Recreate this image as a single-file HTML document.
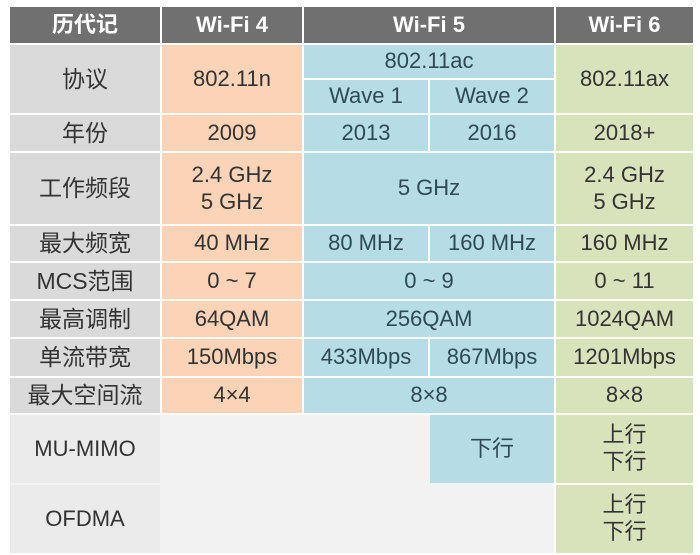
<!DOCTYPE html><html><head><meta charset="utf-8"><style>
body{margin:0;width:700px;height:555px;background:#fff;position:relative;overflow:hidden;font-family:"Liberation Sans","Noto Sans CJK SC",sans-serif}
.c{position:absolute;display:flex;flex-direction:column;align-items:center;justify-content:center;font-size:22px;color:#333;line-height:1.22;box-sizing:border-box}
.h{background:#707070;color:#fff;font-weight:bold;font-size:22px}
.l{background:#dadada;color:#333;font-size:23px}
.o{background:#fbd3b6}
.b{background:#b6dce6;color:#2e4a55}
.g{background:#d8e3bc}
.e{background:#f2f2f2}
</style></head><body>
<div class="c h" style="left:10px;top:7px;width:150px;height:36px">历代记</div>
<div class="c h" style="left:162px;top:7px;width:140px;height:36px">Wi-Fi 4</div>
<div class="c h" style="left:304px;top:7px;width:250px;height:36px">Wi-Fi 5</div>
<div class="c h" style="left:556px;top:7px;width:137px;height:36px">Wi-Fi 6</div>

<div class="c l" style="left:10px;top:45px;width:150px;height:68px">协议</div>
<div class="c o" style="left:162px;top:45px;width:140px;height:68px">802.11n</div>
<div class="c b" style="left:304px;top:45px;width:250px;height:33px">802.11ac</div>
<div class="c b" style="left:304px;top:80px;width:124px;height:33px">Wave 1</div>
<div class="c b" style="left:430px;top:80px;width:124px;height:33px">Wave 2</div>
<div class="c g" style="left:556px;top:45px;width:137px;height:68px">802.11ax</div>

<div class="c l" style="left:10px;top:115px;width:150px;height:36px">年份</div>
<div class="c o" style="left:162px;top:115px;width:140px;height:36px">2009</div>
<div class="c b" style="left:304px;top:115px;width:124px;height:36px">2013</div>
<div class="c b" style="left:430px;top:115px;width:124px;height:36px">2016</div>
<div class="c g" style="left:556px;top:115px;width:137px;height:36px">2018+</div>

<div class="c l" style="left:10px;top:153px;width:150px;height:71px">工作频段</div>
<div class="c o" style="left:162px;top:153px;width:140px;height:71px"><div>2.4 GHz</div><div>5 GHz</div></div>
<div class="c b" style="left:304px;top:153px;width:250px;height:71px">5 GHz</div>
<div class="c g" style="left:556px;top:153px;width:137px;height:71px"><div>2.4 GHz</div><div>5 GHz</div></div>

<div class="c l" style="left:10px;top:226px;width:150px;height:35px">最大频宽</div>
<div class="c o" style="left:162px;top:226px;width:140px;height:35px">40 MHz</div>
<div class="c b" style="left:304px;top:226px;width:124px;height:35px">80 MHz</div>
<div class="c b" style="left:430px;top:226px;width:124px;height:35px">160 MHz</div>
<div class="c g" style="left:556px;top:226px;width:137px;height:35px">160 MHz</div>

<div class="c l" style="left:10px;top:263px;width:150px;height:36px">MCS范围</div>
<div class="c o" style="left:162px;top:263px;width:140px;height:36px">0 ~ 7</div>
<div class="c b" style="left:304px;top:263px;width:250px;height:36px">0 ~ 9</div>
<div class="c g" style="left:556px;top:263px;width:137px;height:36px">0 ~ 11</div>

<div class="c l" style="left:10px;top:301px;width:150px;height:36px">最高调制</div>
<div class="c o" style="left:162px;top:301px;width:140px;height:36px">64QAM</div>
<div class="c b" style="left:304px;top:301px;width:250px;height:36px">256QAM</div>
<div class="c g" style="left:556px;top:301px;width:137px;height:36px">1024QAM</div>

<div class="c l" style="left:10px;top:339px;width:150px;height:37px">单流带宽</div>
<div class="c o" style="left:162px;top:339px;width:140px;height:37px">150Mbps</div>
<div class="c b" style="left:304px;top:339px;width:124px;height:37px">433Mbps</div>
<div class="c b" style="left:430px;top:339px;width:124px;height:37px">867Mbps</div>
<div class="c g" style="left:556px;top:339px;width:137px;height:37px">1201Mbps</div>

<div class="c l" style="left:10px;top:378px;width:150px;height:35px">最大空间流</div>
<div class="c o" style="left:162px;top:378px;width:140px;height:35px">4×4</div>
<div class="c b" style="left:304px;top:378px;width:250px;height:35px">8×8</div>
<div class="c g" style="left:556px;top:378px;width:137px;height:35px">8×8</div>

<div class="c e" style="left:10px;top:415px;width:544px;height:138px"></div>
<div class="c e" style="left:10px;top:415px;width:150px;height:68px;background:#ebebeb">MU-MIMO</div>
<div class="c b" style="left:430px;top:415px;width:124px;height:68px">下行</div>
<div class="c g" style="left:556px;top:415px;width:137px;height:68px"><div>上行</div><div>下行</div></div>

<div class="c e" style="left:10px;top:485px;width:150px;height:68px;background:#ebebeb">OFDMA</div>
<div class="c g" style="left:556px;top:485px;width:137px;height:68px"><div>上行</div><div>下行</div></div>
</body></html>
